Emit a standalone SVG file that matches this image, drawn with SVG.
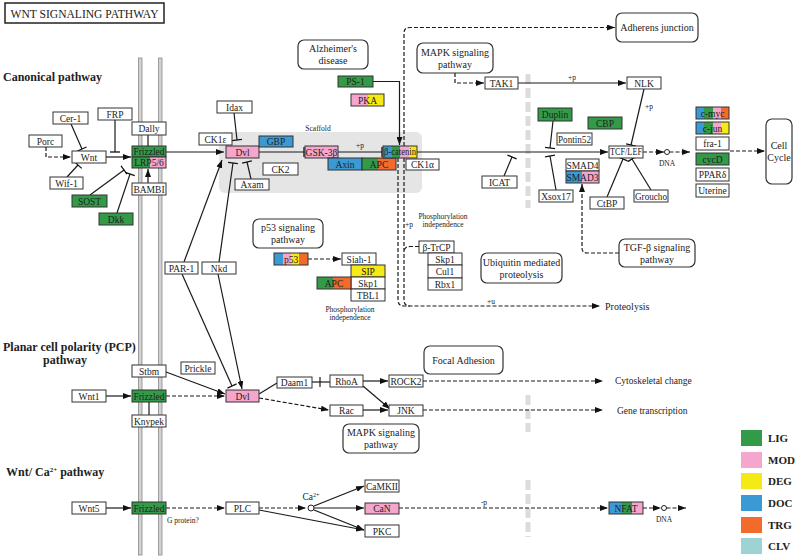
<svg xmlns="http://www.w3.org/2000/svg" width="796" height="558" viewBox="0 0 796 558">
<style>
text{font-family:"Liberation Serif","DejaVu Serif",serif;fill:#222}
.n{fill:#fff;stroke:#333;stroke-width:1}
.o{fill:none;stroke:#333;stroke-width:1}
.m{fill:#fff;stroke:#333;stroke-width:1.2}
.t{font-size:9.5px;text-anchor:middle}
.mt{font-size:10px;text-anchor:middle}
.s{font-size:7.5px}
.h{font-size:12px;font-weight:bold}
.c{stroke:#1a1a1a;stroke-width:1.2;fill:none}
.d{stroke-dasharray:4 2}
.G{fill:#339a48}.P{fill:#f4a6cc}.Y{fill:#f6ea16}.B{fill:#3b99d4}.R{fill:#f26a2c}.L{fill:#9ed3d3}
.lg{font-size:11px;font-weight:bold}
</style>
<defs>
<marker id="a" viewBox="0 0 8 6" refX="8" refY="3" markerWidth="8" markerHeight="6" markerUnits="userSpaceOnUse" orient="auto"><path d="M0,0 L8,3 L0,6z" fill="#111"/></marker>
<marker id="t" viewBox="-1 -6 2 12" refX="0" refY="0" markerWidth="2" markerHeight="12" markerUnits="userSpaceOnUse" orient="auto"><path d="M0,-5 V5" stroke="#111" stroke-width="1.3"/></marker>
</defs>

<!-- title -->
<g id="title"><rect x="5" y="3" width="159" height="20" fill="#fff" stroke="#222" stroke-width="1.5"/><text x="84.5" y="17.5" font-size="12" text-anchor="middle" textLength="148" lengthAdjust="spacingAndGlyphs">WNT SIGNALING PATHWAY</text></g>

<!-- section labels -->
<text class="h" x="3" y="81">Canonical pathway</text>
<text class="h" x="3" y="351">Planar cell polarity (PCP)</text>
<text class="h" x="65" y="364" text-anchor="middle">pathway</text>
<text class="h" x="6" y="476">Wnt/ Ca<tspan dy="-4" font-size="7">2+</tspan><tspan dy="4"> pathway</tspan></text>

<!-- membrane -->
<g id="membrane">
<rect x="138.5" y="58" width="3.5" height="497" fill="#d2d2d2" stroke="#8a8a8a" stroke-width="0.8"/>
<rect x="158.5" y="58" width="3.5" height="497" fill="#d2d2d2" stroke="#8a8a8a" stroke-width="0.8"/>
</g>
<!-- nuclear membrane -->
<g id="nucleus" stroke="#dcdcdc" stroke-width="5" stroke-dasharray="10 4">
<line x1="528" y1="74" x2="528" y2="208"/>
<line x1="528" y1="395" x2="528" y2="432"/>
<line x1="528" y1="480" x2="528" y2="537"/>
</g>
<!-- scaffold -->
<g id="scaffold"><rect x="219" y="132" width="203" height="61" rx="6" fill="#e5e5e5"/><text class="s" x="318" y="131" text-anchor="middle">Scaffold</text></g>

<g id="connectors">
<path class="c d" d="M46,147 V157 H71" marker-end="url(#a)"/>
<line class="c" x1="71" y1="124" x2="82" y2="149" marker-end="url(#t)"/>
<line class="c" x1="115" y1="120" x2="115" y2="152" marker-end="url(#t)"/>
<line class="c" x1="67" y1="177" x2="78" y2="165" marker-end="url(#t)"/>
<line class="c" x1="106" y1="157" x2="131" y2="157" marker-end="url(#a)"/>
<line class="c" x1="90" y1="195" x2="124" y2="170" marker-end="url(#t)"/>
<line class="c" x1="117" y1="213" x2="130" y2="174" marker-end="url(#t)"/>
<line class="c" x1="148" y1="183" x2="148" y2="169" marker-end="url(#a)"/>
<line class="c" x1="148" y1="135" x2="148" y2="146"/>
<line class="c" x1="166" y1="152" x2="224" y2="152" marker-end="url(#a)"/>
<line class="c" x1="234" y1="113" x2="237" y2="140" marker-end="url(#t)"/>
<line class="c" x1="251" y1="179" x2="247" y2="162" marker-end="url(#t)"/>
<line class="c" x1="184" y1="262" x2="222" y2="160" marker-end="url(#a)"/>
<line class="c" x1="219" y1="262" x2="233" y2="163" marker-end="url(#t)"/>
<line class="c" x1="182" y1="274" x2="232" y2="386" marker-end="url(#t)"/>
<line class="c" x1="218" y1="274" x2="242" y2="389" marker-end="url(#a)"/>
<line class="c" x1="259" y1="152" x2="304" y2="152" marker-end="url(#t)"/>
<line class="c" x1="338" y1="152" x2="382" y2="152" marker-end="url(#t)"/>
<text class="s" x="360" y="148" text-anchor="middle">+p</text>
<path class="c" d="M373,81.5 H399.5 V145" marker-end="url(#a)"/>
<line class="c" x1="417" y1="152" x2="608" y2="152" marker-end="url(#a)"/>
<path class="c d" d="M404,146 V33 Q404,27.5 410,27.5 H615" marker-end="url(#a)"/>
<path class="c d" d="M398,158 V300 Q398,306 404,306 H600" marker-end="url(#a)"/>
<path class="c d" d="M404,158 V300 Q404,306 410,306"/>
<path class="c d" d="M419,246.5 H410 Q404,246.5 404,252"/>
<text class="s" x="409" y="227" text-anchor="middle">+p</text>
<text class="s" x="491" y="304" text-anchor="middle">+u</text>
<path class="c d" d="M455,73 V83 H484" marker-end="url(#a)"/>
<line class="c" x1="518" y1="83" x2="626" y2="83" marker-end="url(#a)"/>
<text class="s" x="572" y="80" text-anchor="middle">+p</text>
<line class="c" x1="644" y1="89" x2="631" y2="145" marker-end="url(#t)"/>
<text class="s" x="649" y="109" text-anchor="middle">+p</text>
<line class="c" x1="553" y1="121" x2="550" y2="148" marker-end="url(#t)"/>
<line class="c" x1="556" y1="190" x2="550" y2="156" marker-end="url(#t)"/>
<line class="c" x1="504" y1="176" x2="512" y2="157" marker-end="url(#t)"/>
<line class="c" x1="607" y1="197" x2="623" y2="159" marker-end="url(#t)"/>
<line class="c" x1="651" y1="190" x2="632" y2="159" marker-end="url(#t)"/>
<path class="c d" d="M619,253 H587 Q582,253 582,248 V184" marker-end="url(#a)"/>
<line class="c d" x1="643" y1="152" x2="664" y2="152" marker-end="url(#a)"/>
<circle cx="667" cy="152" r="2.5" fill="#fff" stroke="#222" stroke-width="1"/>
<line class="c d" x1="669.5" y1="152" x2="690" y2="152" marker-end="url(#a)"/>
<line class="c d" x1="730" y1="151" x2="765" y2="151" marker-end="url(#a)"/>
<line class="c d" x1="308" y1="259" x2="341" y2="259" marker-end="url(#a)"/>
<!-- PCP -->
<line class="c" x1="106" y1="396" x2="131" y2="396" marker-end="url(#a)"/>
<line class="c d" x1="166" y1="396" x2="225" y2="396" marker-end="url(#a)"/>
<line class="c" x1="166" y1="372" x2="225" y2="394" marker-end="url(#a)"/>
<line class="c" x1="149" y1="402" x2="149" y2="415"/>
<line class="c" x1="259" y1="394" x2="277" y2="383"/>
<line class="c" x1="312" y1="382" x2="330" y2="382"/>
<line class="c" x1="320" y1="377" x2="320" y2="387"/>
<line class="c" x1="363" y1="381" x2="388" y2="381" marker-end="url(#a)"/>
<line class="c" x1="363" y1="386" x2="390" y2="409" marker-end="url(#a)"/>
<line class="c d" x1="259" y1="398" x2="329" y2="410" marker-end="url(#a)"/>
<line class="c" x1="363" y1="410" x2="388" y2="410" marker-end="url(#a)"/>
<line class="c d" x1="423" y1="381" x2="603" y2="381" marker-end="url(#a)"/>
<line class="c d" x1="423" y1="410" x2="603" y2="410" marker-end="url(#a)"/>
<!-- Ca -->
<line class="c" x1="106" y1="508" x2="131" y2="508" marker-end="url(#a)"/>
<line class="c d" x1="166" y1="508" x2="225" y2="508" marker-end="url(#a)"/>
<line class="c d" x1="259" y1="508" x2="306" y2="508" marker-end="url(#a)"/>
<circle cx="311" cy="508" r="3" fill="#fff" stroke="#222" stroke-width="1"/>
<line class="c" x1="259" y1="510" x2="364" y2="530" marker-end="url(#a)"/>
<line class="c" x1="314" y1="506" x2="364" y2="486" marker-end="url(#a)"/>
<line class="c" x1="314" y1="508" x2="364" y2="508" marker-end="url(#a)"/>
<line class="c" x1="314" y1="510" x2="364" y2="530" marker-end="url(#a)"/>
<line class="c d" x1="399" y1="508" x2="608" y2="508" marker-end="url(#a)"/>
<text class="s" x="484" y="505" text-anchor="middle">-p</text>
<line class="c d" x1="643" y1="508" x2="661" y2="508" marker-end="url(#a)"/>
<circle cx="664" cy="508" r="2.5" fill="#fff" stroke="#222" stroke-width="1"/>
<line class="c d" x1="666.5" y1="508" x2="686" y2="508" marker-end="url(#a)"/>
</g>

<!-- Canonical nodes -->
<g id="cer1"><rect class="n" x="53" y="112" width="35" height="12"/><text class="t" x="70.5" y="121.5">Cer-1</text></g>
<g id="frp"><rect class="n" x="98" y="108" width="34" height="12"/><text class="t" x="115" y="117.5">FRP</text></g>
<g id="porc"><rect class="n" x="29" y="135" width="33" height="12"/><text class="t" x="45.5" y="144.5">Porc</text></g>
<g id="wnt"><rect class="n" x="72" y="151" width="34" height="12"/><text class="t" x="89" y="160.5">Wnt</text></g>
<g id="wif1"><rect class="n" x="50" y="177" width="33" height="12"/><text class="t" x="66.5" y="186.5">Wif-1</text></g>
<g id="sost"><rect class="n G" x="72" y="195" width="35" height="12"/><text class="t" x="89.5" y="204.5">SOST</text></g>
<g id="dkk"><rect class="n G" x="99" y="213" width="34" height="12"/><text class="t" x="116" y="222.5">Dkk</text></g>
<g id="dally"><rect class="n" x="132" y="122" width="34" height="13"/><text class="t" x="149" y="132">Dally</text></g>
<g id="frizzled"><rect class="n G" x="132" y="146" width="34" height="11"/><text class="t" x="149" y="155">Frizzled</text></g>
<g id="lrp"><rect class="G" x="132" y="157" width="18" height="11"/><rect class="P" x="150" y="157" width="16" height="11"/><rect class="o" x="132" y="157" width="34" height="11"/><text class="t" x="149" y="166">LRP5/6</text></g>
<g id="bambi"><rect class="n" x="132" y="183" width="34" height="12"/><text class="t" x="149" y="192.5" font-size="9">BAMBI</text></g>
<g id="ck1e"><rect class="n" x="199" y="133" width="33" height="12"/><text class="t" x="215.5" y="142.5">CK1ε</text></g>
<g id="idax"><rect class="n" x="217" y="101" width="35" height="12"/><text class="t" x="234.5" y="110.5">Idax</text></g>
<g id="dvl"><rect class="n P" x="226" y="146" width="33" height="12"/><text class="t" x="242.5" y="155.5">Dvl</text></g>
<g id="gbp"><rect class="n B" x="259" y="136" width="34" height="11"/><text class="t" x="276" y="145">GBP</text></g>
<g id="ck2"><rect class="n" x="263" y="163" width="35" height="12"/><text class="t" x="280.5" y="172.5">CK2</text></g>
<g id="axam"><rect class="n" x="235" y="179" width="34" height="11"/><text class="t" x="252" y="188">Axam</text></g>
<g id="gsk3b"><rect class="n P" x="305" y="146" width="33" height="12"/><text class="t" x="321.5" y="155.5" font-size="9">GSK-3β</text></g>
<g id="axin"><rect class="n B" x="328" y="158" width="34" height="12"/><text class="t" x="345" y="167.5">Axin</text></g>
<g id="apc"><rect class="G" x="362" y="158" width="16" height="12"/><rect class="R" x="378" y="158" width="18" height="12"/><rect class="o" x="362" y="158" width="34" height="12"/><text class="t" x="379" y="167.5">APC</text></g>
<g id="bcatenin"><rect class="B" x="383" y="146" width="9" height="12"/><rect class="G" x="392" y="146" width="8" height="12"/><rect class="P" x="400" y="146" width="9" height="12"/><rect class="Y" x="409" y="146" width="8" height="12"/><rect class="o" x="383" y="146" width="34" height="12"/><text class="t" x="400" y="155" font-size="8.5" textLength="32" lengthAdjust="spacingAndGlyphs">β-catenin</text></g>
<g id="ck1a"><rect class="n" x="406" y="159" width="33" height="11"/><text class="t" x="422.5" y="168">CK1α</text></g>
<g id="ps1"><rect class="n G" x="338" y="76" width="35" height="11"/><text class="t" x="355.5" y="85">PS-1</text></g>
<g id="pka"><rect class="P" x="351" y="94" width="17" height="12"/><rect class="Y" x="368" y="94" width="16" height="12"/><rect class="o" x="351" y="94" width="33" height="12"/><text class="t" x="367.5" y="103.5">PKA</text></g>
<g id="alzheimer"><rect class="m" x="298" y="40" width="70" height="29" rx="6"/><text class="mt" x="333" y="52">Alzheimer's</text><text class="mt" x="333" y="64">disease</text></g>
<g id="adherens"><rect class="m" x="616" y="13" width="82" height="29" rx="6"/><text class="mt" x="657" y="31">Adherens junction</text></g>
<g id="mapk1"><rect class="m" x="417" y="43" width="76" height="30" rx="6"/><text class="mt" x="455" y="56">MAPK signaling</text><text class="mt" x="455" y="68">pathway</text></g>
<g id="tak1"><rect class="n" x="485" y="77" width="33" height="12"/><text class="t" x="501.5" y="86.5">TAK1</text></g>
<g id="nlk"><rect class="n" x="627" y="77" width="34" height="12"/><text class="t" x="644" y="86.5">NLK</text></g>
<g id="duplin"><rect class="n G" x="538" y="108" width="34" height="13"/><text class="t" x="555" y="118">Duplin</text></g>
<g id="cbp"><rect class="n G" x="588" y="117" width="34" height="12"/><text class="t" x="605" y="126.5">CBP</text></g>
<g id="pontin52"><rect class="n" x="557" y="133" width="35" height="12"/><text class="t" x="574.5" y="142.5" textLength="33" lengthAdjust="spacingAndGlyphs">Pontin52</text></g>
<g id="icat"><rect class="n" x="482" y="176" width="35" height="12"/><text class="t" x="499.5" y="185.5">ICAT</text></g>
<g id="xsox17"><rect class="n" x="539" y="190" width="34" height="12"/><text class="t" x="556" y="199.5">Xsox17</text></g>
<g id="smad4"><rect class="n" x="566" y="159" width="33" height="12"/><text class="t" x="582.5" y="168.5" font-size="9">SMAD4</text></g>
<g id="smad3"><rect class="B" x="566" y="171" width="16" height="12"/><rect class="P" x="582" y="171" width="17" height="12"/><rect class="o" x="566" y="171" width="33" height="12"/><text class="t" x="582.5" y="180.5" font-size="9">SMAD3</text></g>
<g id="tcflef"><rect class="n" x="609" y="146" width="34" height="12"/><text class="t" x="626" y="155" font-size="8" textLength="32" lengthAdjust="spacingAndGlyphs">TCF/LEF</text></g>
<g id="ctbp"><rect class="n" x="590" y="197" width="34" height="12"/><text class="t" x="607" y="206.5">CtBP</text></g>
<g id="groucho"><rect class="n" x="634" y="190" width="34" height="12"/><text class="t" x="651" y="199.5" textLength="32" lengthAdjust="spacingAndGlyphs">Groucho</text></g>
<g id="tgfb"><rect class="m" x="619" y="239" width="76" height="28" rx="6"/><text class="mt" x="657" y="251">TGF-β signaling</text><text class="mt" x="657" y="263">pathway</text></g>
<g id="cmyc"><rect class="B" x="696" y="107" width="8" height="12"/><rect class="G" x="704" y="107" width="9" height="12"/><rect class="P" x="713" y="107" width="8" height="12"/><rect class="R" x="721" y="107" width="8" height="12"/><rect class="o" x="696" y="107" width="33" height="12"/><text class="t" x="712.5" y="116.5">c-myc</text></g>
<g id="cjun"><rect class="B" x="696" y="122" width="8" height="12"/><rect class="G" x="704" y="122" width="9" height="12"/><rect class="P" x="713" y="122" width="8" height="12"/><rect class="Y" x="721" y="122" width="8" height="12"/><rect class="o" x="696" y="122" width="33" height="12"/><text class="t" x="712.5" y="131.5">c-jun</text></g>
<g id="fra1"><rect class="n" x="696" y="137" width="33" height="13"/><text class="t" x="712.5" y="147">fra-1</text></g>
<g id="cycd"><rect class="n G" x="696" y="153" width="33" height="12"/><text class="t" x="712.5" y="162.5">cycD</text></g>
<g id="ppard"><rect class="n" x="696" y="168" width="33" height="13"/><text class="t" x="712.5" y="178">PPARδ</text></g>
<g id="uterine"><rect class="n" x="696" y="184" width="33" height="13"/><text class="t" x="712.5" y="194">Uterine</text></g>
<g id="cellcycle"><rect class="m" x="766" y="119" width="26" height="65" rx="6"/><text class="mt" x="779" y="149">Cell</text><text class="mt" x="779" y="161">Cycle</text></g>
<text class="s" x="667" y="166" text-anchor="middle">DNA</text>
<g id="p53map"><rect class="m" x="253" y="219" width="70" height="29" rx="6"/><text class="mt" x="288" y="231">p53 signaling</text><text class="mt" x="288" y="243">pathway</text></g>
<g id="p53"><rect class="B" x="274" y="253" width="9" height="12"/><rect class="P" x="283" y="253" width="8" height="12"/><rect class="Y" x="291" y="253" width="8" height="12"/><rect class="R" x="299" y="253" width="9" height="12"/><rect class="o" x="274" y="253" width="34" height="12"/><text class="t" x="291" y="262.5">p53</text></g>
<g id="siah1"><rect class="n" x="342" y="253" width="34" height="12"/><text class="t" x="359" y="262.5">Siah-1</text></g>
<g id="sip"><rect class="n Y" x="351" y="265" width="34" height="12"/><text class="t" x="368" y="274.5">SIP</text></g>
<g id="skp1a"><rect class="n" x="351" y="277" width="34" height="12"/><text class="t" x="368" y="286.5">Skp1</text></g>
<g id="tbl1"><rect class="n" x="351" y="289" width="34" height="12"/><text class="t" x="368" y="298.5">TBL1</text></g>
<g id="apc2"><rect class="G" x="317" y="277" width="16" height="12"/><rect class="R" x="333" y="277" width="18" height="12"/><rect class="o" x="317" y="277" width="34" height="12"/><text class="t" x="334" y="286.5">APC</text></g>
<text class="s" x="350" y="312" text-anchor="middle">Phosphorylation</text>
<text class="s" x="350" y="320" text-anchor="middle">independence</text>
<text class="s" x="443" y="219" text-anchor="middle">Phosphorylation</text>
<text class="s" x="443" y="227" text-anchor="middle">independence</text>
<g id="btrcp"><rect class="n" x="419" y="241" width="35" height="12"/><text class="t" x="436.5" y="250.5">β-TrCP</text></g>
<g id="skp1b"><rect class="n" x="428" y="253" width="34" height="12"/><text class="t" x="445" y="262.5">Skp1</text></g>
<g id="cul1"><rect class="n" x="428" y="265" width="34" height="13"/><text class="t" x="445" y="275">Cul1</text></g>
<g id="rbx1"><rect class="n" x="428" y="278" width="34" height="12"/><text class="t" x="445" y="287.5">Rbx1</text></g>
<g id="ubiquitin"><rect class="m" x="481" y="253" width="81" height="30" rx="6"/><text class="mt" x="521.5" y="266">Ubiquitin mediated</text><text class="mt" x="521.5" y="278">proteolysis</text></g>
<text x="605" y="310" font-size="10">Proteolysis</text>
<g id="par1"><rect class="n" x="165" y="262" width="33" height="12"/><text class="t" x="181.5" y="271.5">PAR-1</text></g>
<g id="nkd"><rect class="n" x="202" y="262" width="34" height="12"/><text class="t" x="219" y="271.5">Nkd</text></g>

<!-- PCP nodes -->
<g id="stbm"><rect class="n" x="132" y="365" width="34" height="12"/><text class="t" x="149" y="374.5">Stbm</text></g>
<g id="prickle"><rect class="n" x="181" y="362" width="34" height="12"/><text class="t" x="198" y="371.5">Prickle</text></g>
<g id="wnt1"><rect class="n" x="72" y="390" width="34" height="12"/><text class="t" x="89" y="399.5">Wnt1</text></g>
<g id="frizzled2"><rect class="n G" x="132" y="390" width="34" height="12"/><text class="t" x="149" y="399.5">Frizzled</text></g>
<g id="knypek"><rect class="n" x="132" y="415" width="34" height="12"/><text class="t" x="149" y="424.5">Knypek</text></g>
<g id="dvl2"><rect class="n P" x="226" y="390" width="33" height="12"/><text class="t" x="242.5" y="399.5">Dvl</text></g>
<g id="daam1"><rect class="n" x="277" y="377" width="35" height="11"/><text class="t" x="294.5" y="386">Daam1</text></g>
<g id="rhoa"><rect class="n" x="330" y="375" width="33" height="12"/><text class="t" x="346.5" y="384.5">RhoA</text></g>
<g id="rock2"><rect class="n" x="389" y="375" width="34" height="12"/><text class="t" x="406" y="384.5">ROCK2</text></g>
<g id="rac"><rect class="n" x="330" y="405" width="33" height="11"/><text class="t" x="346.5" y="414">Rac</text></g>
<g id="jnk"><rect class="n" x="389" y="405" width="34" height="11"/><text class="t" x="406" y="414">JNK</text></g>
<g id="focal"><rect class="m" x="424" y="346" width="79" height="28" rx="6"/><text class="mt" x="463.5" y="364">Focal Adhesion</text></g>
<g id="mapk2"><rect class="m" x="343" y="424" width="76" height="29" rx="6"/><text class="mt" x="381" y="436">MAPK signaling</text><text class="mt" x="381" y="448">pathway</text></g>
<text x="615" y="384" font-size="9.5">Cytoskeletal change</text>
<text x="617" y="414" font-size="9.5">Gene transcription</text>

<!-- Ca nodes -->
<g id="wnt5"><rect class="n" x="72" y="502" width="34" height="12"/><text class="t" x="89" y="511.5">Wnt5</text></g>
<g id="frizzled3"><rect class="n G" x="132" y="502" width="34" height="12"/><text class="t" x="149" y="511.5">Frizzled</text></g>
<text class="s" x="167" y="523">G protein?</text>
<g id="plc"><rect class="n" x="226" y="502" width="33" height="12"/><text class="t" x="242.5" y="511.5">PLC</text></g>
<text x="311" y="500" font-size="9.5" text-anchor="middle">Ca<tspan dy="-3.5" font-size="6">2+</tspan></text>
<g id="camkii"><rect class="n" x="365" y="480" width="34" height="12"/><text class="t" x="382" y="489.5" textLength="32" lengthAdjust="spacingAndGlyphs">CaMKII</text></g>
<g id="can"><rect class="n P" x="365" y="503" width="34" height="11"/><text class="t" x="382" y="512">CaN</text></g>
<g id="pkc"><rect class="n" x="365" y="525" width="34" height="12"/><text class="t" x="382" y="534.5">PKC</text></g>
<g id="nfat"><rect class="B" x="609" y="502" width="13" height="12"/><rect class="G" x="622" y="502" width="10" height="12"/><rect class="P" x="632" y="502" width="11" height="12"/><rect class="o" x="609" y="502" width="34" height="12"/><text class="t" x="626" y="511.5">NFAT</text></g>
<text class="s" x="664" y="522" text-anchor="middle">DNA</text>

<!-- legend -->
<g id="legend">
<rect class="G" x="741" y="430" width="21" height="16"/><text class="lg" x="768" y="442">LIG</text>
<rect class="P" x="741" y="452" width="21" height="16"/><text class="lg" x="768" y="464">MOD</text>
<rect class="Y" x="741" y="473" width="21" height="16"/><text class="lg" x="768" y="485">DEG</text>
<rect class="B" x="741" y="495" width="21" height="16"/><text class="lg" x="768" y="507">DOC</text>
<rect class="R" x="741" y="517" width="21" height="16"/><text class="lg" x="768" y="529">TRG</text>
<rect class="L" x="741" y="538" width="21" height="16"/><text class="lg" x="768" y="550">CLV</text>
</g>
</svg>
